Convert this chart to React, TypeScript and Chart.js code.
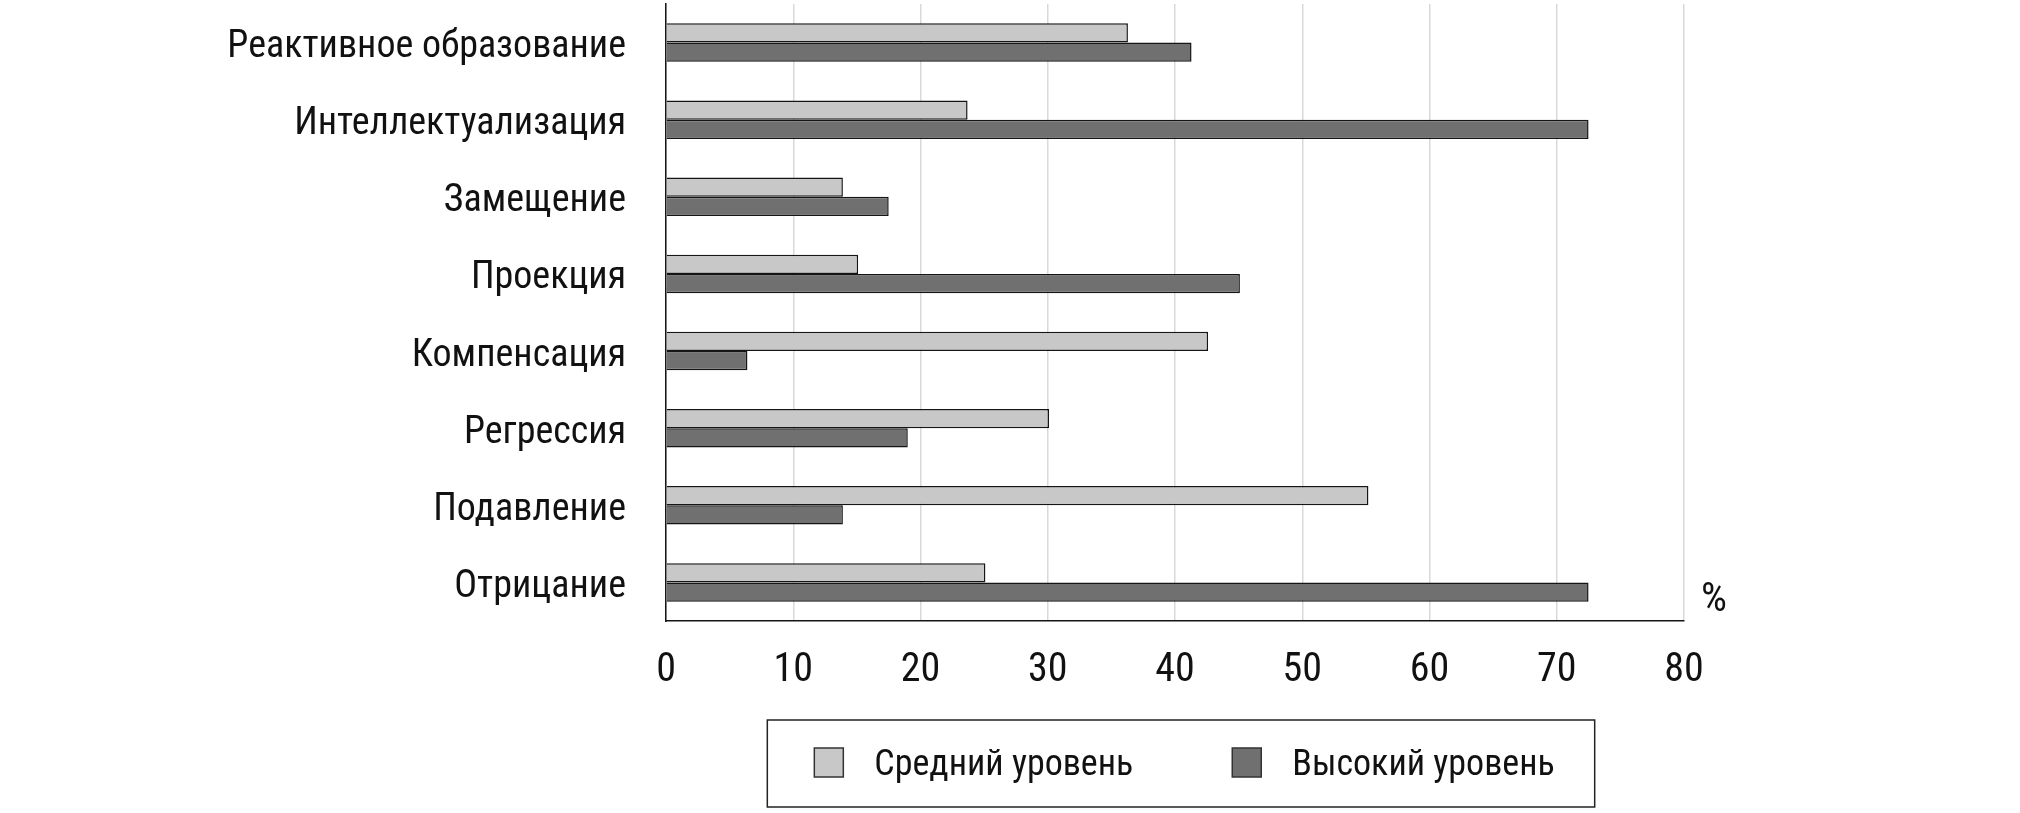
import React, { useEffect, useRef } from "react";
import { Chart, registerables } from "chart.js";

Chart.register(...registerables);

const categories: string[] = [
  "Реактивное образование",
  "Интеллектуализация",
  "Замещение",
  "Проекция",
  "Компенсация",
  "Регрессия",
  "Подавление",
  "Отрицание",
];

const seriesNames: string[] = ["Средний уровень", "Высокий уровень"];

const mediumLevel: number[] = [36.3, 23.7, 13.9, 15.1, 42.6, 30.1, 55.2, 25.1];
const highLevel: number[] = [41.3, 72.5, 17.5, 45.1, 6.4, 19.0, 13.9, 72.5];

const xTicks: number[] = [0, 10, 20, 30, 40, 50, 60, 70, 80];
const unitLabel = "%";

const FAMILY = "'Roboto Condensed', 'DejaVu Sans Condensed', sans-serif";
const LIGHT = "#c8c8c8";
const DARK = "#707070";
const EDGE = "#151515";
const TEXT = "#111111";

const overlayPlugin = {
  id: "overlayLegend",
  afterDraw(chart: any) {
    const { ctx, chartArea } = chart;
    ctx.save();
    ctx.fillStyle = TEXT;
    ctx.font = `41px ${FAMILY}`;
    ctx.textAlign = "left";
    ctx.textBaseline = "middle";
    ctx.fillText(unitLabel, chartArea.right + 17, chartArea.bottom - 20);

    ctx.font = `36px ${FAMILY}`;
    const sq = 29;
    const gapSqText = 31;
    const itemGap = 99;
    const padL = 47;
    const padR = 40;
    const widths = seriesNames.map((n) => ctx.measureText(n).width);
    const inner =
      widths.reduce((a, w) => a + sq + gapSqText + w, 0) + itemGap * (seriesNames.length - 1);
    const boxW = inner + padL + padR;
    const cx = (chartArea.left + chartArea.right) / 2 + 6;
    const boxL = cx - boxW / 2;
    const boxT = chartArea.bottom + 99;
    const boxH = 87;
    ctx.strokeStyle = "#222";
    ctx.lineWidth = 1.5;
    ctx.strokeRect(boxL, boxT, boxW, boxH);
    const midY = boxT + boxH / 2;
    let x = boxL + padL;
    const fills = [LIGHT, DARK];
    seriesNames.forEach((n, i) => {
      ctx.fillStyle = fills[i];
      ctx.fillRect(x, midY - sq / 2 - 1, sq, sq);
      ctx.strokeStyle = "#333";
      ctx.lineWidth = 1.5;
      ctx.strokeRect(x, midY - sq / 2 - 1, sq, sq);
      x += sq + gapSqText;
      ctx.fillStyle = TEXT;
      ctx.textBaseline = "middle";
      ctx.fillText(n, x, midY + 2);
      x += widths[i] + itemGap;
    });
    ctx.restore();
  },
};

export default function App() {
  const ref = useRef<HTMLCanvasElement | null>(null);
  useEffect(() => {
    document.body.style.margin = "0";
    if (!ref.current) return;
    const chart = new Chart(ref.current, {
      type: "bar",
      data: {
        labels: categories,
        datasets: [
          {
            label: seriesNames[0],
            data: mediumLevel,
            backgroundColor: LIGHT,
            borderColor: EDGE,
            borderWidth: 1.5,
          },
          {
            label: seriesNames[1],
            data: highLevel,
            backgroundColor: DARK,
            borderColor: EDGE,
            borderWidth: 1.5,
          },
        ],
      },
      options: {
        indexAxis: "y",
        responsive: false,
        animation: false,
        datasets: { bar: { categoryPercentage: 0.5, barPercentage: 1 } },
        layout: { padding: { top: 4, left: 0, right: 336, bottom: 112 } },
        plugins: { legend: { display: false }, tooltip: { enabled: false } },
        scales: {
          x: {
            min: 0,
            max: 80,
            afterBuildTicks: (scale: any) => {
              scale.ticks = xTicks.map((v) => ({ value: v }));
            },
            afterFit: (scale: any) => {
              scale.height = 80;
            },
            grid: { color: "#d9d9d9", lineWidth: 1.5, drawTicks: false },
            border: { display: true, color: "#151515", width: 1.5 },
            ticks: {
              padding: 26,
              color: TEXT,
              font: { family: FAMILY, size: 40 },
            },
          },
          y: {
            afterFit: (scale: any) => {
              scale.width = 666;
              scale.paddingTop = 0;
              scale.paddingBottom = 0;
            },
            grid: { display: false, drawTicks: false },
            border: { display: true, color: "#151515", width: 1.5 },
            ticks: {
              padding: 40,
              labelOffset: 5,
              color: TEXT,
              font: { family: FAMILY, size: 38 },
            },
          },
        },
      },
      plugins: [overlayPlugin],
    } as any);
    return () => chart.destroy();
  }, []);
  return <canvas ref={ref} width={2020} height={813} style={{ display: "block" }} />;
}
